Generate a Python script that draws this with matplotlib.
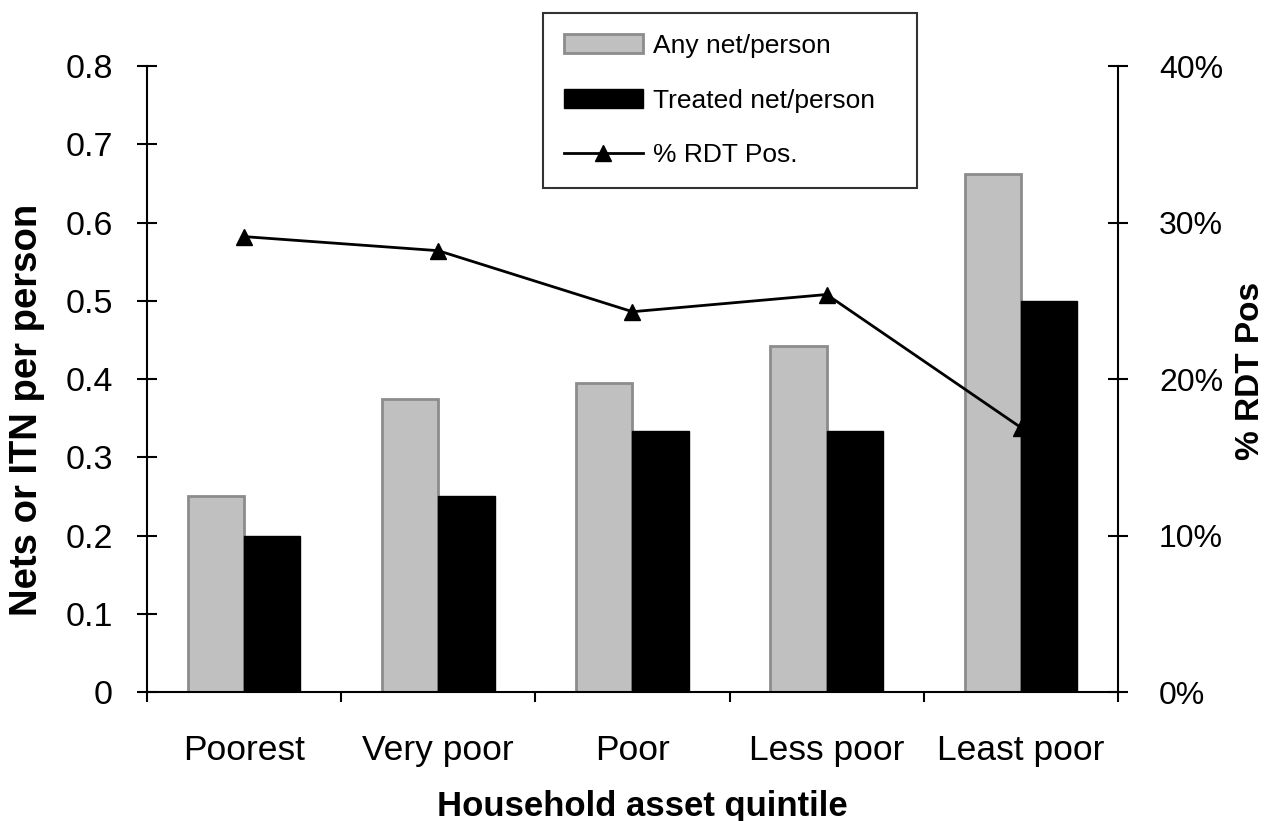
import matplotlib
matplotlib.use("Agg")
import matplotlib.pyplot as plt
import numpy as np
from matplotlib.ticker import FuncFormatter

plt.rcParams['font.family'] = ['Liberation Sans', 'DejaVu Sans']

categories = ["Poorest", "Very poor", "Poor", "Less poor", "Least poor"]
any_net = [0.25, 0.375, 0.395, 0.442, 0.662]
treated_net = [0.20, 0.25, 0.333, 0.333, 0.50]
rdt_pos = [29.1, 28.2, 24.3, 25.4, 16.9]

fig = plt.figure(figsize=(12.69, 8.21), dpi=100)
ax = fig.add_axes([0.1158, 0.1571, 0.7652, 0.7625])
x = np.arange(len(categories))
w = 0.29
b1 = ax.bar(x - w/2, any_net, w, color='#c0c0c0', edgecolor='#8c8c8c', linewidth=2, label='Any net/person', zorder=2)
b2 = ax.bar(x + w/2, treated_net, w, color='black', edgecolor='black', linewidth=1, label='Treated net/person', zorder=2)
ax.set_xlim(-0.5, len(categories) - 0.5)
ax.set_ylim(0, 0.8)
ax.set_yticks(np.arange(0, 0.81, 0.1))
ax.yaxis.set_major_formatter(FuncFormatter(lambda v, p: '0' if abs(v) < 1e-9 else f'{v:.1f}'))

ax.set_xticks(np.arange(-0.5, len(categories), 1.0))
ax.set_xticklabels([])
ax.set_xticks(x, minor=True)
ax.set_xticklabels(categories, minor=True)
ax.tick_params(axis='x', which='major', direction='out', length=7, width=1.5)
ax.tick_params(axis='x', which='minor', length=0, pad=30, labelsize=25.5)
ax.tick_params(axis='y', direction='inout', length=15, width=1.5, pad=17, labelsize=24.5)

for s in ['top', 'right']:
    ax.spines[s].set_visible(False)
for s in ['left', 'bottom']:
    ax.spines[s].set_linewidth(1.5)

ax.set_ylabel('Nets or ITN per person', fontsize=27.5, fontweight='bold')
ax.yaxis.set_label_coords(-0.105, 0.45)
ax.set_xlabel('Household asset quintile', fontsize=25, fontweight='bold')
ax.xaxis.set_label_coords(0.51, -0.157)

ax2 = ax.twinx()
ln, = ax2.plot(x, rdt_pos, color='black', linewidth=2, marker='^', markersize=12, label='% RDT Pos.', zorder=3)
ax2.set_ylim(0, 40)
ax2.set_yticks(np.arange(0, 41, 10))
ax2.yaxis.set_major_formatter(FuncFormatter(lambda v, p: f'{int(v)}%'))
ax2.tick_params(axis='y', direction='inout', length=15, width=1.5, pad=22, labelsize=23)
for s in ['top', 'left', 'bottom']:
    ax2.spines[s].set_visible(False)
ax2.spines['right'].set_linewidth(1.5)
ax2.set_ylabel('% RDT Pos', fontsize=24, fontweight='bold')
ax2.yaxis.set_label_coords(1.121, 0.513)

leg = fig.legend([b1, b2, ln], ['Any net/person', 'Treated net/person', '% RDT Pos.'],
                 loc='upper left', bbox_to_anchor=(0.428, 0.984 - 0.206, 0.2947, 0.206),
                 mode='expand', fontsize=19,
                 frameon=True, fancybox=False, edgecolor='black', handlelength=3.0,
                 labelspacing=1.17, borderpad=0.78, handletextpad=0.4, borderaxespad=0)
leg.get_frame().set_linewidth(1.5)

fig.savefig('out.png', dpi=100)
